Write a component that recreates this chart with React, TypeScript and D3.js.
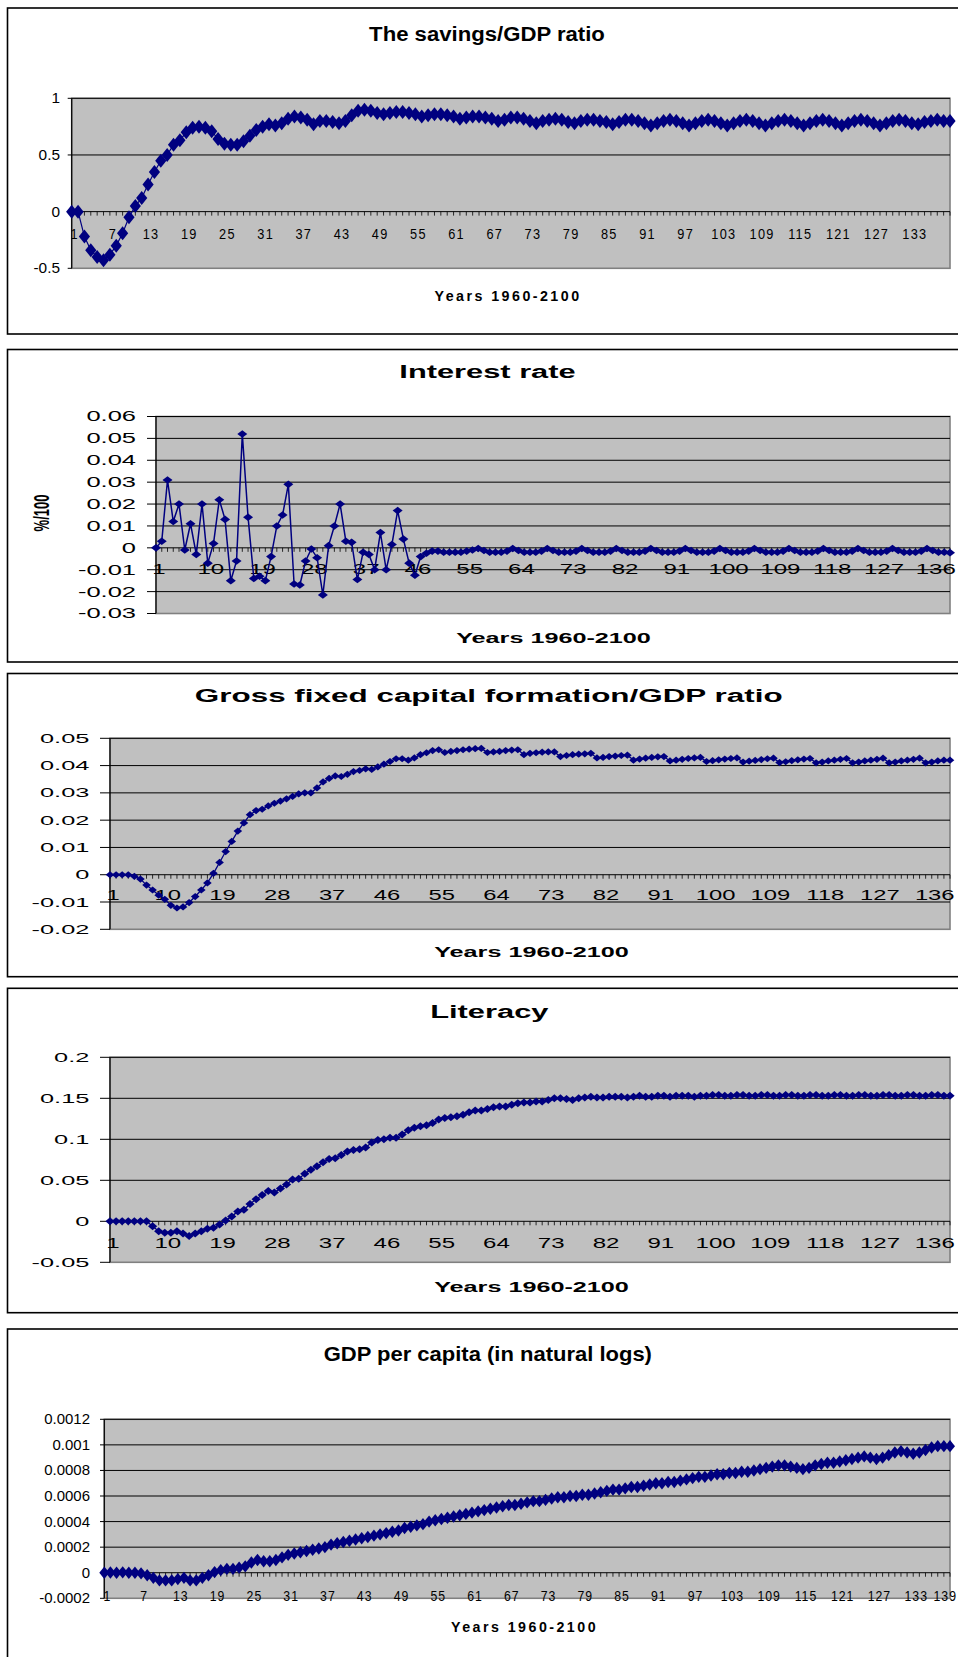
import React from "react";
import * as d3 from "d3";

const N = 139;
const categories: number[] = d3.range(1, N + 1);

const savings: number[] = [
  0, 0, -0.22, -0.34, -0.4, -0.43, -0.38, -0.3, -0.19, -0.05,
  0.05, 0.12, 0.24, 0.35, 0.45, 0.5, 0.59, 0.63, 0.7, 0.74,
  0.75, 0.74, 0.71, 0.64, 0.6, 0.59, 0.59, 0.62, 0.67, 0.72,
  0.75, 0.77, 0.76, 0.78, 0.82, 0.84, 0.83, 0.81, 0.77, 0.8,
  0.8, 0.79, 0.78, 0.8, 0.85, 0.89, 0.9, 0.89, 0.87, 0.86,
  0.87, 0.88, 0.88, 0.87, 0.86, 0.84, 0.85, 0.86, 0.86, 0.85,
  0.84, 0.82, 0.83, 0.84, 0.84, 0.83, 0.82, 0.8, 0.81, 0.83,
  0.83, 0.82, 0.8, 0.78, 0.8, 0.81, 0.82, 0.81, 0.79, 0.78,
  0.8, 0.81, 0.81, 0.8, 0.79, 0.77, 0.79, 0.81, 0.81, 0.8,
  0.78, 0.76, 0.78, 0.8, 0.81, 0.8, 0.78, 0.76, 0.78, 0.8,
  0.81, 0.8, 0.78, 0.76, 0.78, 0.8, 0.81, 0.8, 0.78, 0.76,
  0.78, 0.8, 0.81, 0.8, 0.78, 0.76, 0.78, 0.8, 0.81, 0.8,
  0.78, 0.76, 0.78, 0.8, 0.81, 0.8, 0.78, 0.76, 0.78, 0.8,
  0.81, 0.8, 0.78, 0.77, 0.79, 0.8, 0.81, 0.8, 0.8,
];

const interest: number[] = [
  0, 0.003, 0.031, 0.012, 0.02, -0.001, 0.011, -0.003, 0.02, -0.007,
  0.002, 0.022, 0.013, -0.015, -0.006, 0.052, 0.014, -0.014, -0.013, -0.015,
  -0.004, 0.01, 0.015, 0.029, -0.0165, -0.017, -0.006, -0.0005, -0.0045, -0.0215,
  0.001, 0.01, 0.02, 0.003, 0.0025, -0.0145, -0.002, -0.003, -0.01, 0.007,
  -0.01, 0.0015, 0.017, 0.004, -0.007, -0.0125, -0.004, -0.0025, -0.0015, -0.0015,
  -0.002, -0.002, -0.002, -0.002, -0.0015, -0.001, -0.0003, -0.0012, -0.002, -0.002,
  -0.002, -0.0015, -0.0003, -0.0012, -0.002, -0.002, -0.002, -0.0015, -0.0003, -0.0012,
  -0.002, -0.002, -0.002, -0.0015, -0.0003, -0.0012, -0.002, -0.002, -0.002, -0.0015,
  -0.0003, -0.0012, -0.002, -0.002, -0.002, -0.0015, -0.0003, -0.0012, -0.002, -0.002,
  -0.002, -0.0015, -0.0003, -0.0012, -0.002, -0.002, -0.002, -0.0015, -0.0003, -0.0012,
  -0.002, -0.002, -0.002, -0.0015, -0.0003, -0.0012, -0.002, -0.002, -0.002, -0.0015,
  -0.0003, -0.0012, -0.002, -0.002, -0.002, -0.0015, -0.0003, -0.0012, -0.002, -0.002,
  -0.002, -0.0015, -0.0003, -0.0012, -0.002, -0.002, -0.002, -0.0015, -0.0003, -0.0012,
  -0.002, -0.002, -0.002, -0.0015, -0.0003, -0.0012, -0.002, -0.002, -0.0022,
];

const gfcf: number[] = [
  0, 0, 0, 0, -0.0006, -0.0016, -0.0038, -0.0056, -0.0075, -0.009,
  -0.0112, -0.0122, -0.0118, -0.0102, -0.008, -0.0056, -0.003, 0.0005, 0.0045, 0.0085,
  0.0122, 0.016, 0.019, 0.022, 0.0235, 0.024, 0.0252, 0.0262, 0.027, 0.0278,
  0.0287, 0.0296, 0.03, 0.03, 0.0318, 0.034, 0.0353, 0.0362, 0.036, 0.0368,
  0.0378, 0.0382, 0.0388, 0.0386, 0.0395, 0.0405, 0.0415, 0.0425, 0.0425, 0.042,
  0.0428, 0.044, 0.0447, 0.0455, 0.0458, 0.0448, 0.0452, 0.0455, 0.0458, 0.046,
  0.0462, 0.0463, 0.0448, 0.045, 0.0452, 0.0455, 0.0457, 0.0458, 0.044, 0.0445,
  0.0447, 0.0449, 0.045, 0.045, 0.0433, 0.0437, 0.044, 0.0442, 0.0443, 0.0445,
  0.0428, 0.043, 0.0433, 0.0435, 0.0437, 0.0438, 0.042, 0.0424, 0.0427, 0.043,
  0.0432, 0.0433, 0.0417, 0.042, 0.0423, 0.0426, 0.0428, 0.043, 0.0415, 0.0418,
  0.0421, 0.0424, 0.0426, 0.0428, 0.0413, 0.0416, 0.0419, 0.0422, 0.0425, 0.0427,
  0.0411, 0.0414, 0.0418, 0.0421, 0.0424, 0.0426, 0.041, 0.0413, 0.0417, 0.042,
  0.0423, 0.0426, 0.041, 0.0413, 0.0417, 0.042, 0.0423, 0.0427, 0.041, 0.0413,
  0.0417, 0.042, 0.0423, 0.0427, 0.041, 0.0413, 0.0417, 0.042, 0.042,
];

const literacy: number[] = [
  0, 0, 0, 0, 0, 0, 0, -0.006, -0.012, -0.014,
  -0.014, -0.012, -0.015, -0.018, -0.015, -0.012, -0.009, -0.008, -0.004, 0.001,
  0.006, 0.012, 0.014, 0.021, 0.027, 0.032, 0.037, 0.035, 0.04, 0.045,
  0.051, 0.052, 0.058, 0.063, 0.067, 0.072, 0.076, 0.077, 0.081, 0.085,
  0.087, 0.088, 0.09, 0.096, 0.099, 0.1, 0.102, 0.102, 0.106, 0.111,
  0.114, 0.116, 0.117, 0.12, 0.124, 0.126, 0.127, 0.128, 0.13, 0.133,
  0.135, 0.135, 0.137, 0.139, 0.14, 0.14, 0.142, 0.144, 0.145, 0.145,
  0.146, 0.146, 0.148, 0.15, 0.15, 0.149, 0.148, 0.15, 0.151, 0.152,
  0.151, 0.151, 0.152, 0.152, 0.152, 0.151, 0.152, 0.153, 0.152, 0.152,
  0.153, 0.153, 0.152, 0.153, 0.153, 0.153, 0.152, 0.153, 0.153, 0.154,
  0.154, 0.153, 0.153, 0.154, 0.154, 0.153, 0.153, 0.154, 0.154, 0.153,
  0.153, 0.154, 0.154, 0.153, 0.153, 0.154, 0.154, 0.153, 0.153, 0.154,
  0.154, 0.153, 0.153, 0.154, 0.154, 0.153, 0.153, 0.154, 0.154, 0.153,
  0.153, 0.154, 0.154, 0.153, 0.153, 0.154, 0.154, 0.153, 0.153,
];

const gdpPerCapita: number[] = [
  0, 0.000002, 0, 0.000003, 0, 0, -0.000005, -0.00002, -0.00004, -0.00006,
  -0.00006, -0.00006, -0.00005, -0.00004, -0.00006, -0.00006, -0.00004, -0.00002, 0.000005, 0.00002,
  0.00003, 0.00003, 0.00004, 0.00005, 0.00008, 0.0001, 0.00009, 0.00009, 0.0001, 0.00012,
  0.00014, 0.00015, 0.00016, 0.00017, 0.00018, 0.00019, 0.0002, 0.00022, 0.00023, 0.00024,
  0.00025, 0.00026, 0.00027, 0.00028, 0.00029, 0.0003, 0.00031, 0.00032, 0.00033, 0.00035,
  0.00036, 0.00037, 0.00038, 0.0004, 0.00041, 0.00042, 0.00043, 0.00044, 0.00045, 0.00046,
  0.00047, 0.00048, 0.00049, 0.0005, 0.00051, 0.00052, 0.00053, 0.00053, 0.00054, 0.00055,
  0.00056, 0.00056, 0.00057, 0.00058, 0.00059, 0.00059, 0.0006, 0.0006, 0.00061, 0.00061,
  0.00062, 0.00063, 0.00064, 0.00065, 0.00065, 0.00066, 0.00067, 0.00067, 0.00068, 0.00069,
  0.0007, 0.0007, 0.00071, 0.00071, 0.00072, 0.00073, 0.00074, 0.00075, 0.00075, 0.00076,
  0.00077, 0.00077, 0.00078, 0.00078, 0.00079, 0.00079, 0.0008, 0.00081, 0.00082, 0.00083,
  0.00084, 0.00084, 0.00083, 0.00082, 0.00081, 0.00082, 0.00084, 0.00085, 0.00086, 0.00086,
  0.00087, 0.00088, 0.00089, 0.0009, 0.00091, 0.0009, 0.00089, 0.0009, 0.00092, 0.00094,
  0.00095, 0.00094, 0.00093, 0.00094, 0.00096, 0.00098, 0.00099, 0.00099, 0.00099,
];

const xLabelsStep6: number[] = [1, 7, 13, 19, 25, 31, 37, 43, 49, 55, 61, 67, 73, 79, 85, 91, 97, 103, 109, 115, 121, 127, 133, 139];
const xLabelsStep9: number[] = [1, 10, 19, 28, 37, 46, 55, 64, 73, 82, 91, 100, 109, 118, 127, 136];

const ticksSavings: number[] = [-0.5, 0, 0.5, 1];
const ticksInterest: number[] = [-0.03, -0.02, -0.01, 0, 0.01, 0.02, 0.03, 0.04, 0.05, 0.06];
const ticksGfcf: number[] = [-0.02, -0.01, 0, 0.01, 0.02, 0.03, 0.04, 0.05];
const ticksLiteracy: number[] = [-0.05, 0, 0.05, 0.1, 0.15, 0.2];
const ticksGdp: number[] = [-0.0002, 0, 0.0002, 0.0004, 0.0006, 0.0008, 0.001, 0.0012];

const titles: string[] = [
  "The savings/GDP ratio",
  "Interest rate",
  "Gross fixed capital formation/GDP ratio",
  "Literacy",
  "GDP per capita (in natural logs)",
];
const axisTitle = "Years 1960-2100";
const yAxisTitleInterest = "%/100";

const FONT = "'Liberation Sans', Arial, Helvetica, sans-serif";
const NAVY = "#000080";
const WIDTH = 958;

type Cfg = {
  title: string;
  values: number[];
  ticks: number[];
  dec: number;
  xLabels: number[];
  box: [number, number];
  plot: { l: number; r: number; t: number; b: number };
  titleX: number; titleY: number; titleSize: number; titleSx: number;
  axX: number; axY: number; axSize: number; axSx: number; axLs: number;
  yLabRight: number; yLabSize: number; yLabSx: number; yTickLen: number;
  xLabDy: number; xLabSize: number; xLabSx: number; xLabLs: number; xLabDx: number;
  mw: number; mh: number; lw: number;
  yTitle?: { x: number; y: number; size: number; sx: number };
};

const panels: Cfg[] = [
  {
    title: titles[0], values: savings, ticks: ticksSavings, dec: 2,
    xLabels: xLabelsStep6.filter((d) => d < 139),
    box: [8, 334], plot: { l: 71.7, r: 950, t: 98.3, b: 268.3 },
    titleX: 487, titleY: 40.7, titleSize: 20.5, titleSx: 1.08,
    axX: 508, axY: 301, axSize: 15, axSx: 0.95, axLs: 2.6,
    yLabRight: 60, yLabSize: 14, yLabSx: 1.1, yTickLen: 4,
    xLabDy: 27, xLabSize: 15, xLabSx: 0.85, xLabLs: 1.5, xLabDx: 3,
    mw: 5.6, mh: 7, lw: 1.2,
  },
  {
    title: titles[1], values: interest, ticks: ticksInterest, dec: 2,
    xLabels: xLabelsStep9,
    box: [349.5, 662], plot: { l: 156, r: 950, t: 416.5, b: 613.5 },
    titleX: 487.5, titleY: 378.3, titleSize: 17.7, titleSx: 1.74,
    axX: 553.5, axY: 642.7, axSize: 15, axSx: 1.68, axLs: 0,
    yLabRight: 136, yLabSize: 14, yLabSx: 1.82, yTickLen: 9,
    xLabDy: 26.5, xLabSize: 14, xLabSx: 1.72, xLabLs: 0, xLabDx: 3,
    mw: 5, mh: 3.8, lw: 1.5,
    yTitle: { x: 49, y: 513, size: 13, sx: 1.7 },
  },
  {
    title: titles[2], values: gfcf, ticks: ticksGfcf, dec: 2,
    xLabels: xLabelsStep9,
    box: [673.5, 976.7], plot: { l: 110, r: 950, t: 738.3, b: 929.3 },
    titleX: 488.7, titleY: 701.7, titleSize: 18.6, titleSx: 1.69,
    axX: 531.5, axY: 957.3, axSize: 15, axSx: 1.68, axLs: 0,
    yLabRight: 89.3, yLabSize: 13, yLabSx: 1.95, yTickLen: 10,
    xLabDy: 25, xLabSize: 14, xLabSx: 1.7, xLabLs: 0, xLabDx: 3,
    mw: 4.3, mh: 3.6, lw: 1.3,
  },
  {
    title: titles[3], values: literacy, ticks: ticksLiteracy, dec: 2,
    xLabels: xLabelsStep9,
    box: [988.3, 1312.7], plot: { l: 110, r: 950, t: 1057.3, b: 1262.3 },
    titleX: 489.3, titleY: 1018.3, titleSize: 18.6, titleSx: 1.66,
    axX: 531.5, axY: 1292.3, axSize: 15, axSx: 1.68, axLs: 0,
    yLabRight: 89.3, yLabSize: 13, yLabSx: 1.95, yTickLen: 10,
    xLabDy: 26.3, xLabSize: 14, xLabSx: 1.72, xLabLs: 0, xLabDx: 3,
    mw: 4.6, mh: 4, lw: 1.3,
  },
  {
    title: titles[4], values: gdpPerCapita, ticks: ticksGdp, dec: 4,
    xLabels: xLabelsStep6,
    box: [1329, 1720], plot: { l: 104.3, r: 950, t: 1419.3, b: 1598.3 },
    titleX: 487.8, titleY: 1361, titleSize: 20, titleSx: 1.1,
    axX: 524.5, axY: 1631.7, axSize: 15, axSx: 0.95, axLs: 2.6,
    yLabRight: 90, yLabSize: 14.4, yLabSx: 1.04, yTickLen: 4.3,
    xLabDy: 28, xLabSize: 15, xLabSx: 0.82, xLabLs: 1.2, xLabDx: 3,
    mw: 5, mh: 6.2, lw: 1.2,
  },
];

function fmt(v: number, dec: number): string {
  return String(+v.toFixed(dec));
}

function Panel({ c }: { c: Cfg }) {
  const { plot } = c;
  const x = d3.scaleLinear().domain([1, N]).range([plot.l, plot.r]);
  const y = d3
    .scaleLinear()
    .domain([c.ticks[0], c.ticks[c.ticks.length - 1]])
    .range([plot.b, plot.t]);
  const line = d3
    .line<number>()
    .x((_, i) => x(categories[i]))
    .y((d) => y(d));
  const y0 = y(0);
  const diamond = `M0,${-c.mh}L${c.mw},0L0,${c.mh}L${-c.mw},0Z`;
  return (
    <g>
      <rect x={7.5} y={c.box[0]} width={980} height={c.box[1] - c.box[0]} fill="#fff" stroke="#000" strokeWidth={1.6} />
      <text
        transform={`translate(${c.titleX},${c.titleY}) scale(${c.titleSx},1)`}
        textAnchor="middle"
        fontFamily={FONT}
        fontWeight="bold"
        fontSize={c.titleSize}
        fill="#000"
      >
        {c.title}
      </text>
      <rect x={plot.l} y={plot.t} width={plot.r - plot.l} height={plot.b - plot.t} fill="#C0C0C0" stroke="#808080" strokeWidth={1.6} />
      {c.ticks.map((t, i) =>
        i === 0 || t === 0 ? null : (
          <line key={"g" + i} x1={plot.l} x2={plot.r} y1={y(t)} y2={y(t)} stroke="#000" strokeWidth={1} />
        )
      )}
      <line x1={plot.l} x2={plot.l} y1={plot.t} y2={plot.b} stroke="#000" strokeWidth={1.2} />
      {c.ticks.map((t, i) => (
        <g key={"yt" + i}>
          <line x1={plot.l - c.yTickLen} x2={plot.l} y1={y(t)} y2={y(t)} stroke="#000" strokeWidth={1} />
          <text
            transform={`translate(${c.yLabRight},${y(t)}) scale(${c.yLabSx},1)`}
            textAnchor="end"
            dy="0.35em"
            fontFamily={FONT}
            fontSize={c.yLabSize}
            fill="#000"
          >
            {fmt(t, c.dec)}
          </text>
        </g>
      ))}
      <line x1={plot.l} x2={plot.r} y1={y0} y2={y0} stroke="#000" strokeWidth={1} />
      {categories.map((k) => (
        <line key={"xt" + k} x1={x(k)} x2={x(k)} y1={y0} y2={y0 + 4} stroke="#000" strokeWidth={0.8} />
      ))}
      {c.xLabels.map((k) => {
        const cx = x(k) + c.xLabDx;
        const nearEdge = cx > WIDTH - 14;
        return (
          <text
            key={"xl" + k}
            transform={`translate(${nearEdge ? WIDTH - 1 : cx},${y0 + c.xLabDy}) scale(${c.xLabSx},1)`}
            textAnchor={nearEdge ? "end" : "middle"}
            fontFamily={FONT}
            fontSize={c.xLabSize}
            letterSpacing={c.xLabLs}
            fill="#000"
          >
            {String(k)}
          </text>
        );
      })}
      <path d={line(c.values) || ""} fill="none" stroke={NAVY} strokeWidth={c.lw} />
      {c.values.map((v, i) => (
        <path key={"m" + i} d={diamond} transform={`translate(${x(categories[i])},${y(v)})`} fill={NAVY} />
      ))}
      <text
        transform={`translate(${c.axX},${c.axY}) scale(${c.axSx},1)`}
        textAnchor="middle"
        fontFamily={FONT}
        fontWeight="bold"
        fontSize={c.axSize}
        letterSpacing={c.axLs}
        fill="#000"
      >
        {axisTitle}
      </text>
      {c.yTitle ? (
        <text
          transform={`translate(${c.yTitle.x},${c.yTitle.y}) scale(${c.yTitle.sx},1) rotate(-90)`}
          textAnchor="middle"
          fontFamily={FONT}
          fontWeight="bold"
          fontSize={c.yTitle.size}
          fill="#000"
        >
          {yAxisTitleInterest}
        </text>
      ) : null}
    </g>
  );
}

export default function App() {
  return (
    <svg
      width={WIDTH}
      height={1657}
      viewBox={`0 0 ${WIDTH} 1657`}
      style={{ position: "absolute", left: 0, top: 0, display: "block", background: "#fff" }}
    >
      <rect x={0} y={0} width={WIDTH} height={1657} fill="#fff" />
      {panels.map((c, i) => (
        <Panel key={i} c={c} />
      ))}
    </svg>
  );
}
